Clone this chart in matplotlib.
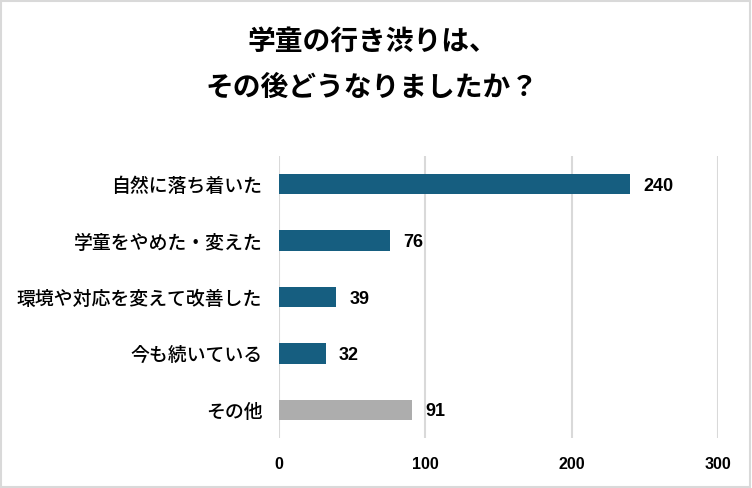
import matplotlib.pyplot as plt
from matplotlib.patches import Rectangle

plt.rcParams['font.family'] = ['Noto Sans CJK JP', 'DejaVu Sans']

categories = ['自然に落ち着いた', '学童をやめた・変えた', '環境や対応を変えて改善した', '今も続いている', 'その他']
values = [240, 76, 39, 32, 91]
colors = ['#165e80', '#165e80', '#165e80', '#165e80', '#adadad']
ticks = [0, 100, 200, 300]

fig = plt.figure(figsize=(7.52, 4.88), dpi=100)
ax = fig.add_axes([279 / 752, 1 - 438 / 488, (718 - 279) / 752, (438 - 156) / 488])

y = list(range(len(categories)))
ax.barh(y, values, height=0.36, color=colors, zorder=3)
ax.set_ylim(len(categories) - 0.5, -0.5)
ax.set_xlim(0, 300)
ax.set_xticks(ticks)
ax.set_xticklabels([str(t) for t in ticks], family='Liberation Sans', fontweight='bold', fontsize=11.5)
ax.set_yticks(y)
ax.set_yticklabels(categories, fontsize=13.6, fontweight='medium')
ax.tick_params(length=0)
ax.tick_params(axis='x', pad=14)
ax.tick_params(axis='y', pad=12)
ax.grid(axis='x', color='#d9d9d9', linewidth=1.5, zorder=0)
for s in ax.spines.values():
    s.set_visible(False)

for yi, v in zip(y, values):
    ax.text(v + 9, yi, str(v), va='center_baseline', ha='left', family='Liberation Sans',
            fontweight='bold', fontsize=13)

fig.text(372 / 752, 1 - 42 / 488, '学童の行き渋りは、', ha='center', va='center', fontsize=20, fontweight='bold')
fig.text(372 / 752, 1 - 88 / 488, 'その後どうなりましたか？', ha='center', va='center', fontsize=20, fontweight='bold')

fig.patches.append(Rectangle((0.001, 0.002), 0.997, 0.995, transform=fig.transFigure,
                             fill=False, edgecolor='#d9d9d9', linewidth=1.5))

fig.savefig('out.png', dpi=100)
